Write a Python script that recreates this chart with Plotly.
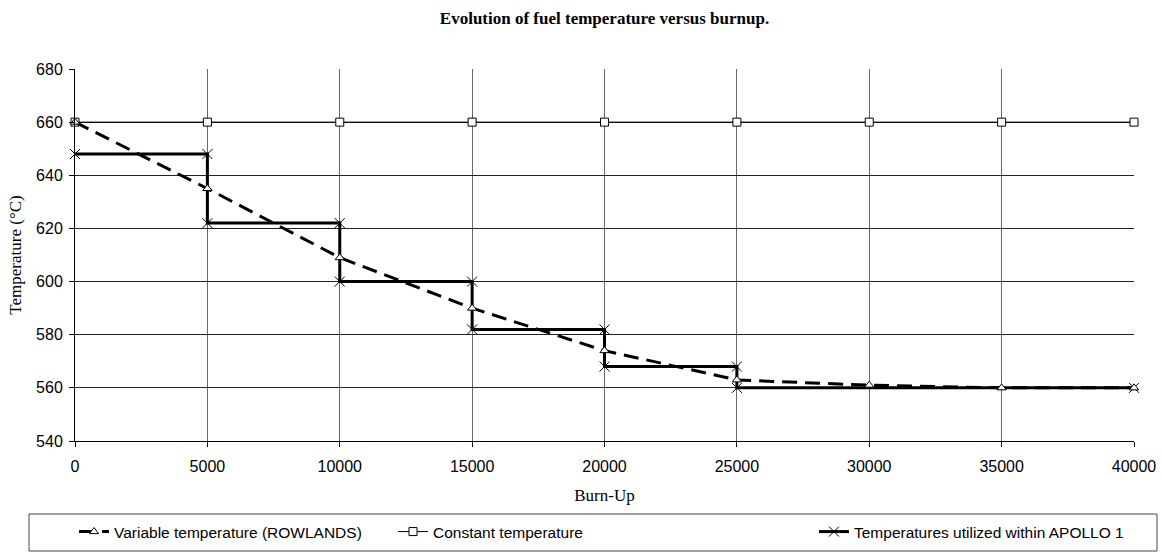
import plotly.graph_objects as go

burnup = [0, 5000, 10000, 15000, 20000, 25000, 30000, 35000, 40000]
var_temp = [660, 635, 609, 590, 574, 563, 561, 560, 560]
const_temp = [660, 660, 660, 660, 660, 660, 660, 660, 660]
apollo_x = [0, 5000, 5000, 10000, 10000, 15000, 15000, 20000, 20000, 25000, 25000, 40000]
apollo_y = [648, 648, 622, 622, 600, 600, 582, 582, 568, 568, 560, 560]

x_ticks = [0, 5000, 10000, 15000, 20000, 25000, 30000, 35000, 40000]
x_tick_labels = ["0", "5000", "10000", "15000", "20000", "25000", "30000", "35000", "40000"]
y_ticks = [540, 560, 580, 600, 620, 640, 660, 680]

fig = go.Figure()
fig.add_trace(go.Scatter(
    x=burnup, y=const_temp, mode="lines+markers", name="Constant temperature",
    line=dict(color="black", width=1), cliponaxis=False,
    marker=dict(symbol="square", size=8, color="white", line=dict(color="black", width=1)),
    legend="legend2"))
fig.add_trace(go.Scatter(
    x=apollo_x, y=apollo_y, mode="lines+markers", name="Temperatures utilized within APOLLO 1",
    line=dict(color="black", width=3), cliponaxis=False,
    marker=dict(symbol="x-thin-open", size=10, color="black", line=dict(color="black", width=1)),
    legend="legend3"))
fig.add_trace(go.Scatter(
    x=burnup, y=var_temp, mode="lines+markers", name="Variable temperature (ROWLANDS)",
    line=dict(color="black", width=3, dash="15px,8px"), cliponaxis=False,
    marker=dict(symbol="triangle-up", size=8, color="white", line=dict(color="black", width=1)),
    legend="legend"))

W, H = 1162, 556
L, R, T, B = 75, 28, 69, 115
pw = W - L - R
ph = H - T - B

def px(xp):
    return (xp - L) / pw

def py(yp):
    return (H - B - yp) / ph

SANS = "Liberation Sans, Arial"
SERIF = "Liberation Serif, Times New Roman"

leg_common = dict(orientation="h", yanchor="middle", xanchor="left",
                  xref="container", yref="container",
                  font=dict(family=SANS, size=15.5, color="black"),
                  bgcolor="rgba(0,0,0,0)", borderwidth=0, visible=True)

fig.update_layout(
    width=W, height=H,
    margin=dict(l=L, r=R, t=T, b=B, autoexpand=False),
    paper_bgcolor="white", plot_bgcolor="white",
    showlegend=True,
    title=dict(text="<b>Evolution of fuel temperature versus burnup.</b>",
               x=0.5, xref="paper", y=1 - 18 / H, yanchor="middle",
               font=dict(family=SERIF, size=17, color="black")),
    xaxis=dict(range=[0, 40000], tickvals=x_ticks, ticktext=x_tick_labels,
               ticks="outside", ticklen=5, tickcolor="black", ticklabelstandoff=6,
               showgrid=True, gridcolor="#666", gridwidth=1, showline=True, linecolor="black",
               linewidth=1, zeroline=False,
               tickfont=dict(family=SANS, size=16, color="black"),
               title=dict(text="Burn-Up", standoff=14,
                          font=dict(family=SERIF, size=17, color="black"))),
    yaxis=dict(range=[540, 680], tickvals=y_ticks, ticks="outside", ticklen=5, tickcolor="black",
               ticklabelstandoff=3,
               showgrid=True, gridcolor="#222", gridwidth=1, showline=True, linecolor="black",
               linewidth=1, zeroline=False,
               tickfont=dict(family=SANS, size=16, color="black"),
               title=dict(text="Temperature (°C)", standoff=10,
                          font=dict(family=SERIF, size=17, color="black"))),
    legend=dict(x=74 / W, y=1 - 532 / H, **leg_common),
    legend2=dict(x=393 / W, y=1 - 532 / H, **leg_common),
    legend3=dict(x=814 / W, y=1 - 532 / H, **leg_common),
    shapes=[dict(type="rect", xref="paper", yref="paper",
                 x0=px(29), x1=px(1157), y0=py(551), y1=py(514),
                 line=dict(color="#444", width=1), fillcolor="rgba(0,0,0,0)", layer="above")],
)

fig.write_html("out.html")
